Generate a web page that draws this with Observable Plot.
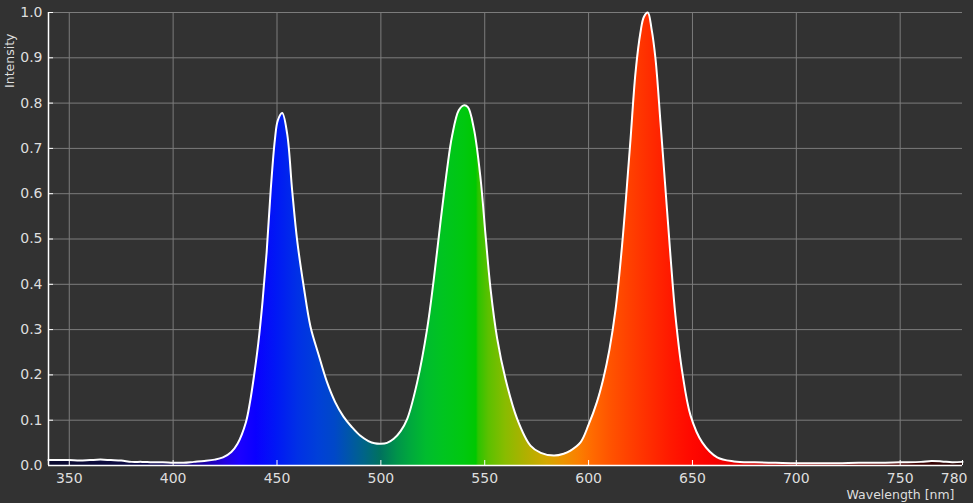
<!DOCTYPE html>
<html>
<head>
<meta charset="utf-8">
<script src="https://cdn.jsdelivr.net/npm/d3@7"></script>
<script src="https://cdn.jsdelivr.net/npm/@observablehq/plot@0.6"></script>
<style>
  html, body { margin: 0; padding: 0; background: #323232; }
  #chart svg { display: block; }
</style>
</head>
<body>
<div id="chart"></div>
<script>
// Spectrum samples: wavelength (nm) and relative intensity
const wavelength = [
  340, 345, 350, 355, 360, 365, 370, 375, 380, 385, 390, 395, 400, 405, 410, 415, 420, 424, 428, 431,
  435, 437, 439, 441, 443, 445, 447, 449, 450.4, 452.5, 454.9, 457.3, 459.7, 462.9, 466.1, 470, 474, 478,
  482, 486, 490, 494, 497, 500, 503, 506.2, 509.5, 512.7, 517.5, 522.3, 525.5, 528.7, 531.9, 534.3,
  537.5, 539.9, 541.9, 544.8, 548, 550.4, 552.8, 556, 560, 565.6, 572, 577, 583.3, 588, 591.3, 596.1,
  600, 604, 607, 610, 613, 616, 618, 620.2, 622.6, 625, 626.6, 628.5, 630.3, 632.2, 634.6, 637,
  639.4, 641.8, 645.1, 649.1, 654.7, 661.9, 670, 680, 690, 700, 710, 720, 730, 740, 750, 760, 765, 770,
  775, 780
];
const intensity = [
  0.012, 0.012, 0.012, 0.011, 0.012, 0.013, 0.012, 0.011, 0.008, 0.008, 0.007, 0.007, 0.006, 0.006, 0.008, 0.010, 0.013, 0.018, 0.030, 0.048,
  0.095, 0.140, 0.200, 0.270, 0.360, 0.470, 0.610, 0.720, 0.762, 0.778, 0.732, 0.607, 0.497, 0.394, 0.307, 0.245, 0.185, 0.140,
  0.108, 0.085, 0.066, 0.054, 0.049, 0.048, 0.050, 0.059, 0.076, 0.103, 0.184, 0.302, 0.412, 0.537, 0.655, 0.728,
  0.784, 0.795, 0.791, 0.743, 0.633, 0.508, 0.390, 0.280, 0.191, 0.103, 0.044, 0.028, 0.022, 0.026, 0.033, 0.051,
  0.090, 0.140, 0.190, 0.255, 0.345, 0.480, 0.590, 0.721, 0.868, 0.957, 0.990, 1.000, 0.964, 0.898, 0.758, 0.611,
  0.464, 0.331, 0.206, 0.110, 0.051, 0.018, 0.009, 0.007, 0.006, 0.005, 0.005, 0.005, 0.006, 0.006, 0.007, 0.008, 0.010, 0.009,
  0.007, 0.008
];

// Spectral fill colours by wavelength
const stopNm = [340, 380, 400, 415, 425, 432, 440, 450, 460, 470, 478, 485, 492, 500, 508, 515, 522, 530, 540, 546,
  547, 552, 560, 570, 580, 588, 595, 602, 610, 620, 630, 640, 650, 660, 680, 700, 730, 760, 780];
const stopColor = ["#0b0b2e", "#0d0b45", "#100a5c", "#1a00a0", "#2200e0", "#1c00ff", "#0a00ff", "#0018f5", "#0030e6", "#0040d8",
  "#0048c8", "#0056a8", "#006488", "#00725e", "#00944a", "#00aa3c", "#00bc2e", "#00c420", "#00c810", "#00c800",
  "#2cc400", "#5cc000", "#88bc00", "#b0b000", "#d4a800", "#ec9400", "#fa8000", "#ff6a00", "#ff5500", "#ff4000",
  "#ff2c00", "#ff1800", "#ff0800", "#f80000", "#d00000", "#a00000", "#6a0000", "#3c0000", "#2a0808"];

const xTicks = [350, 400, 450, 500, 550, 600, 650, 700, 750, 780];
const xLabelsMain = [350, 400, 450, 500, 550, 600, 650, 700, 750];
const xLabelsEnd = [780];
const xGrid = [350, 400, 450, 500, 550, 600, 650, 700, 750];
const yTicks = [0, 0.1, 0.2, 0.3, 0.4, 0.5, 0.6, 0.7, 0.8, 0.9, 1.0];

const data = wavelength.map((w, i) => ({w, v: intensity[i]}));

function spectrumDefs(index, scales) {
  const defs = d3.create("svg:defs");
  const g = defs.append("linearGradient")
    .attr("id", "spectrum")
    .attr("gradientUnits", "userSpaceOnUse")
    .attr("x1", scales.x(stopNm[0]))
    .attr("x2", scales.x(stopNm[stopNm.length - 1]))
    .attr("y1", 0).attr("y2", 0);
  const lo = stopNm[0], hi = stopNm[stopNm.length - 1];
  stopNm.forEach((nm, i) => {
    g.append("stop").attr("offset", (nm - lo) / (hi - lo)).attr("stop-color", stopColor[i]);
  });
  return defs.node();
}

const txt = "#dedede";
const chart = Plot.plot({
  width: 973,
  height: 503,
  marginLeft: 48,
  marginRight: 11,
  marginTop: 12,
  marginBottom: 38,
  style: {background: "#323232", color: txt, fontFamily: "'DejaVu Sans', sans-serif", fontSize: "14px"},
  x: {domain: [340, 780]},
  y: {domain: [0, 1]},
  marks: [
    spectrumDefs,
    Plot.gridX(xGrid, {stroke: "#7c7c7c", strokeOpacity: 1}),
    Plot.gridY(yTicks, {stroke: "#7c7c7c", strokeOpacity: 1}),
    Plot.areaY(data, {x: "w", y: "v", fill: "url(#spectrum)", curve: "catmull-rom"}),
    Plot.lineY(data, {x: "w", y: "v", stroke: "white", strokeWidth: 2, curve: "catmull-rom"}),
    Plot.ruleY([0], {stroke: "white", strokeWidth: 1.5}),
    Plot.ruleX([340], {stroke: "white", strokeWidth: 1.5}),
    Plot.axisX({ticks: xTicks, tickSize: 5, dy: -5, tickFormat: () => "", stroke: "white", label: null}),
    Plot.axisY({ticks: yTicks, tickSize: 5, dx: 5, tickFormat: () => "", stroke: "white", label: null}),
    Plot.axisX({ticks: xLabelsMain, tickSize: 0, tickPadding: 8, tickFormat: d3.format("d"), fill: txt, fontSize: 14, label: null}),
    Plot.axisX({ticks: xLabelsEnd, tickSize: 0, tickPadding: 8, tickFormat: d3.format("d"), textAnchor: "end", dx: 5, fill: txt, fontSize: 14, label: null}),
    Plot.axisY({ticks: yTicks, tickSize: 0, tickPadding: 6, tickFormat: d3.format(".1f"), fill: txt, fontSize: 14, label: null}),
    Plot.text(["Intensity"], {frameAnchor: "top-left", rotate: -90, textAnchor: "end", lineAnchor: "middle",
      dx: -39, dy: 21, fill: txt, fontSize: 12.5}),
    Plot.text(["Wavelength [nm]"], {frameAnchor: "bottom-right", textAnchor: "end", lineAnchor: "middle",
      dx: -8, dy: 29, fill: txt, fontSize: 12.5})
  ]
});
document.getElementById("chart").appendChild(chart);
</script>
</body>
</html>
